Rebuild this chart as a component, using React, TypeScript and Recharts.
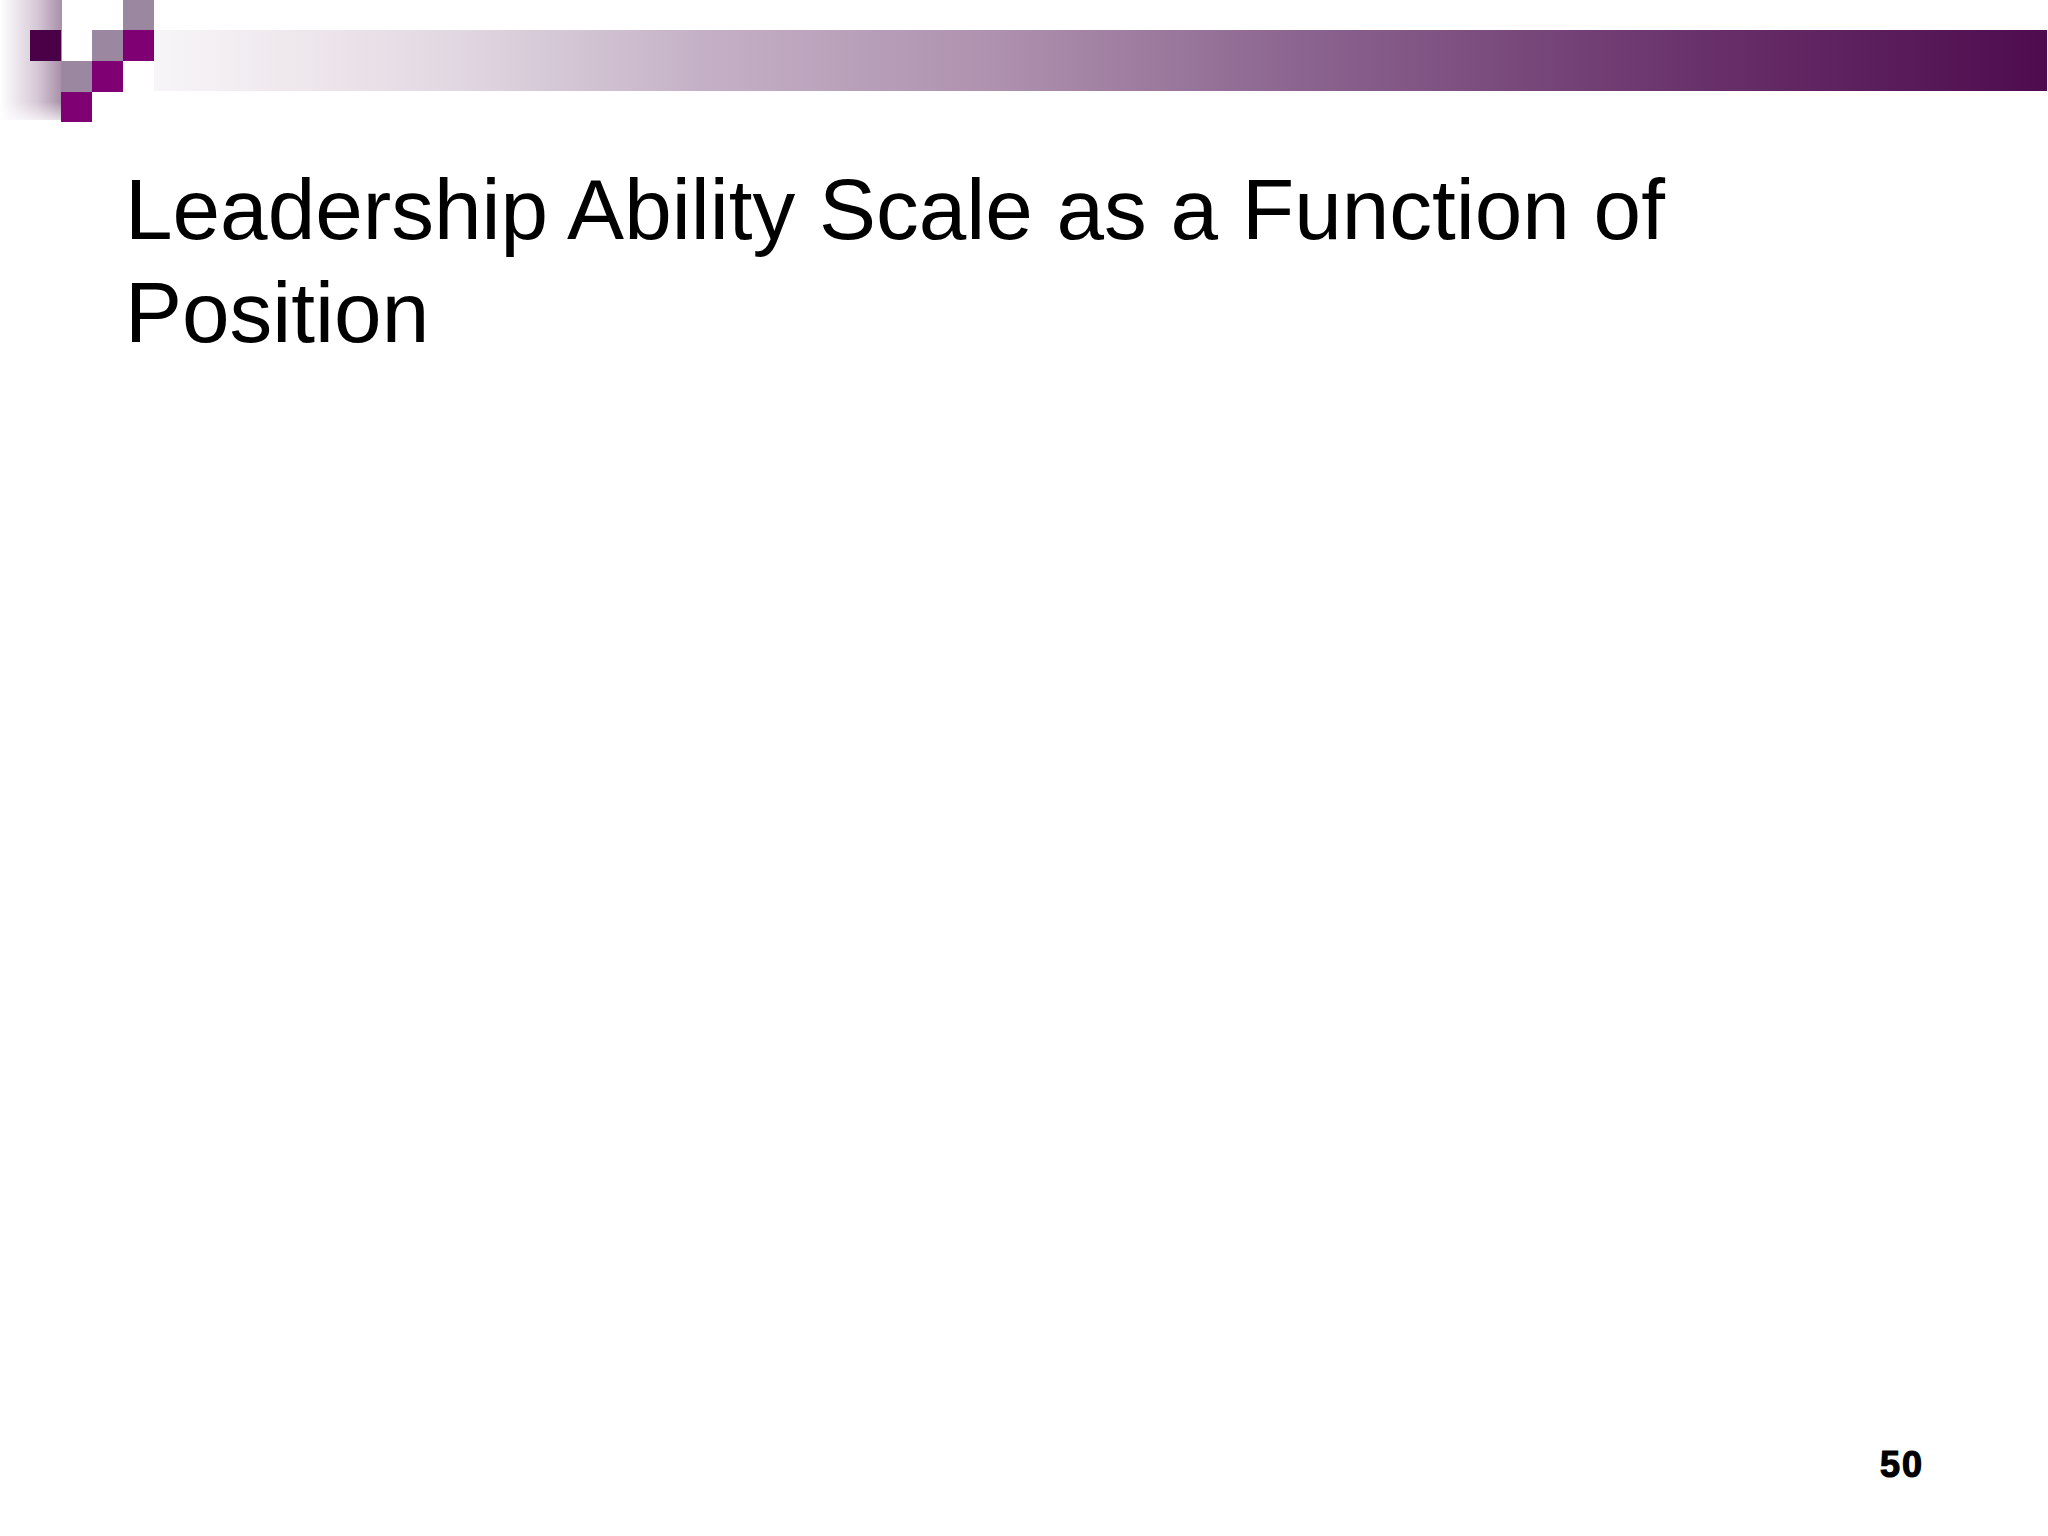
import React from "react";
import { Surface, Rectangle, Text } from "recharts";

// Slide content (this slide has no plotted data)
const titleLines: string[] = ["Leadership Ability Scale as a Function of", "Position"];
const pageNumber: string = "50";

// Gradient colours (offset, colour)
const bandOffsets: number[] = [0, 0.1, 0.16, 0.24, 0.29, 0.45, 0.6, 0.82, 1];
const bandColors: string[] = ["#f7f5f8", "#ebe3e9", "#e1d7e2", "#cfc0d0", "#c4b0c6", "#ad90ad", "#8c6690", "#68306a", "#4e0c4e"];

const W = 2048;
const H = 1536;
const DARK = "#4a0046";
const MAGENTA = "#7f0073";
const MAUVE = "#9c87a0";

export default function App() {
  return (
    <div style={{ position: "absolute", left: 0, top: 0, width: W, height: H, background: "#ffffff" }}>
      <Surface width={W} height={H}>
        <defs>
          <linearGradient id="band" x1="0" y1="0" x2="1" y2="0">
            {bandOffsets.map((o, i) => (
              <stop key={i} offset={o} stopColor={bandColors[i]} />
            ))}
          </linearGradient>
          <linearGradient id="side" x1="0" y1="0" x2="1" y2="0">
            <stop offset={0} stopColor="#ffffff" />
            <stop offset={0.6} stopColor="#d6c8d6" />
            <stop offset={1} stopColor="#a88fa8" />
          </linearGradient>
          <linearGradient id="sideV" x1="0" y1="0" x2="0" y2="1">
            <stop offset={0} stopColor="#ffffff" stopOpacity={0} />
            <stop offset={0.85} stopColor="#ffffff" stopOpacity={0} />
            <stop offset={1} stopColor="#ffffff" stopOpacity={0.7} />
          </linearGradient>
        </defs>
        {/* left vertical fade bar */}
        <Rectangle x={0} y={0} width={62} height={120} fill="url(#side)" />
        <Rectangle x={0} y={0} width={62} height={120} fill="url(#sideV)" />
        {/* horizontal band */}
        <Rectangle x={154} y={30} width={1893} height={61} fill="url(#band)" />
        {/* checker squares */}
        <Rectangle x={123} y={0} width={31} height={30} fill={MAUVE} />
        <Rectangle x={30} y={30} width={31} height={31} fill={DARK} />
        <Rectangle x={92} y={30} width={31} height={31} fill={MAUVE} />
        <Rectangle x={123} y={30} width={31} height={31} fill={MAGENTA} />
        <Rectangle x={61} y={61} width={31} height={31} fill={MAUVE} />
        <Rectangle x={92} y={61} width={31} height={31} fill={MAGENTA} />
        <Rectangle x={61} y={92} width={31} height={30} fill={MAGENTA} />
        {/* title */}
        {titleLines.map((line, i) => (
          <Text
            key={i}
            x={125}
            y={239 + i * 103}
            textAnchor="start"
            verticalAnchor="end"
            style={{ fontFamily: "Arial, 'Liberation Sans', sans-serif", fontSize: 85.5, fill: "#000000" }}
          >
            {line}
          </Text>
        ))}
        {/* page number */}
        <Text
          x={1880}
          y={1477}
          textAnchor="start"
          verticalAnchor="end"
          style={{
            fontFamily: "Arial, 'Liberation Sans', sans-serif",
            fontSize: 36,
            fontWeight: 900,
            letterSpacing: 2,
            fill: "#000000",
            stroke: "#000000",
            strokeWidth: 1.2,
          }}
        >
          {pageNumber}
        </Text>
      </Surface>
    </div>
  );
}
